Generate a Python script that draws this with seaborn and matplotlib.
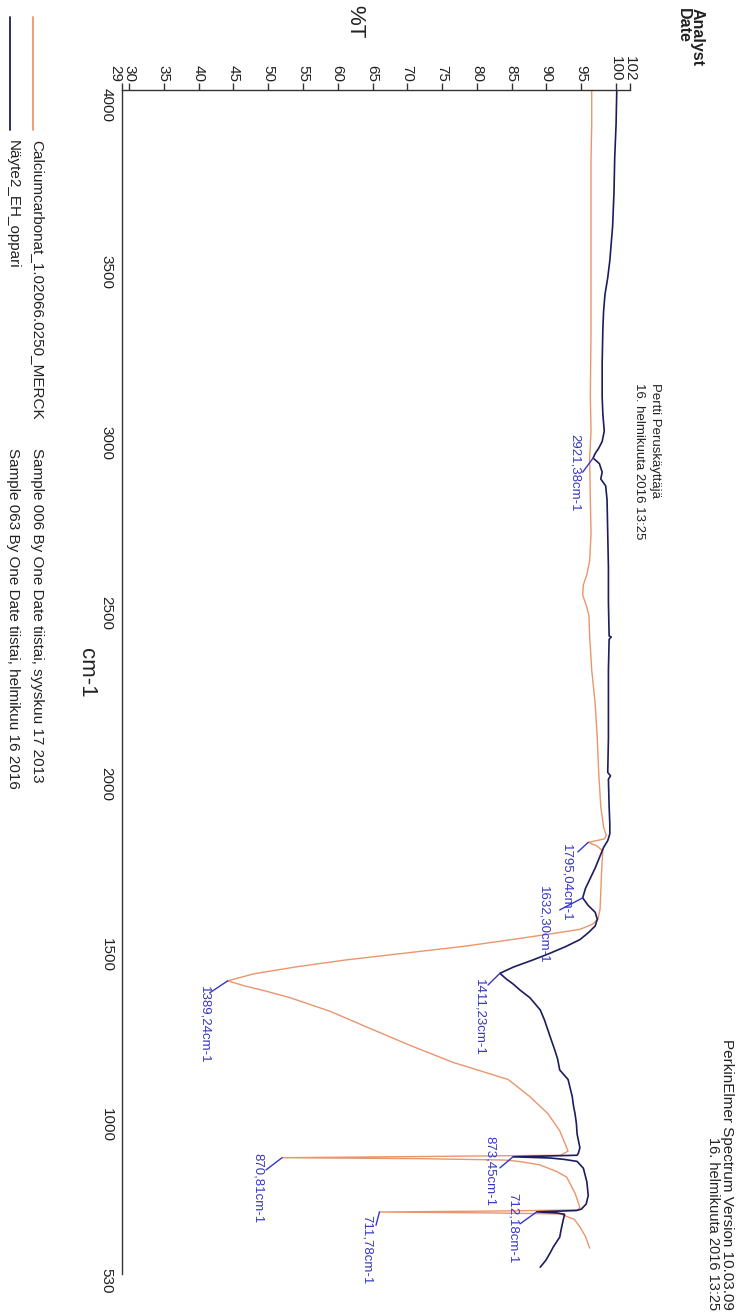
import numpy as np
import pandas as pd
import matplotlib
matplotlib.use('Agg')
import matplotlib.pyplot as plt
import matplotlib.transforms as mtransforms
import seaborn as sns
from matplotlib.lines import Line2D

# Calciumcarbonat reference spectrum (cm-1 / %T)
calc_wn = [4000, 3900, 3800, 3600, 3500, 3300, 3100, 3000, 2921, 2800, 2700, 2620, 2580, 2550,
           2520, 2490, 2460, 2400, 2300, 2200, 2100, 2000, 1900, 1840, 1815, 1805, 1795, 1785,
           1770, 1740, 1700, 1650, 1600, 1570, 1555, 1540, 1525, 1510, 1490, 1470, 1450, 1430,
           1410, 1389.24, 1375, 1360, 1340, 1320, 1300, 1250, 1200, 1150, 1100, 1050, 1000, 950,
           910, 890, 878, 874, 870.81, 868, 864, 860, 850, 830, 814, 767, 725, 718, 715, 711.78,
           709, 706, 690, 668, 640, 606]
calc_t = [96.5, 96.5, 96.4, 96.4, 96.4, 96.4, 96.3, 96.4, 96.2, 96.3, 96.4, 96.2, 95.8, 95.3,
          95.2, 95.7, 96.1, 96.2, 96.5, 97.0, 97.3, 97.5, 97.8, 98.2, 98.6, 98.3, 96.0, 97.2,
          98.1, 98.0, 97.9, 97.8, 97.7, 97.4, 96.6, 94.8, 90.0, 85.0, 78.0, 69.5, 61.0, 54.0,
          48.0, 44.2, 46.5, 49.5, 53.1, 56.0, 58.9, 64.6, 70.4, 76.6, 84.5, 87.6, 90.2, 91.9,
          92.7, 93.1, 92.0, 70.0, 52.0, 72.0, 84.0, 86.0, 89.0, 91.5, 92.9, 94.1, 94.8, 94.5,
          85.0, 66.0, 82.0, 92.0, 94.0, 94.8, 95.6, 96.2]

# Näyte2_EH_oppari sample spectrum
samp_wn = [4000, 3900, 3800, 3700, 3600, 3550, 3500, 3450, 3400, 3350, 3300, 3200, 3100, 3050,
           3000, 2970, 2950, 2935, 2921.38, 2905, 2880, 2860, 2840, 2800, 2700, 2600, 2500, 2400,
           2397, 2390, 2300, 2200, 2100, 2000, 1990, 1980, 1900, 1850, 1820, 1800, 1780, 1750,
           1720, 1690, 1660, 1632.30, 1610, 1590, 1570, 1550, 1530, 1510, 1490, 1470, 1450, 1430,
           1411.23, 1395, 1380, 1362, 1340, 1304, 1275, 1245, 1215, 1186, 1160, 1128, 1100, 1075,
           1050, 1020, 1000, 970, 940, 900, 885, 878, 873.45, 870, 866, 860, 840, 800, 760, 735,
           720, 716, 712.18, 709, 705, 688, 660, 638, 610, 591, 570, 550]
samp_t = [100.1, 100.0, 99.8, 99.7, 99.5, 99.3, 99.1, 98.8, 98.4, 98.2, 98.1, 98.0, 98.0, 98.1,
          98.3, 98.0, 97.5, 97.0, 96.7, 97.6, 98.0, 97.8, 98.5, 98.7, 98.8, 98.9, 98.9, 99.0,
          99.3, 99.0, 98.9, 98.9, 98.9, 98.8, 99.2, 98.9, 99.0, 99.1, 99.1, 98.8, 98.2, 97.6,
          97.0, 96.3, 95.6, 95.2, 96.0, 97.0, 97.3, 97.0, 96.0, 94.8, 92.8, 90.5, 88.0, 85.3,
          83.3, 84.2, 85.2, 86.2, 87.6, 89.1, 89.7, 90.2, 90.7, 91.2, 91.6, 91.9, 93.1, 93.4,
          93.7, 93.9, 94.1, 94.3, 94.4, 94.8, 94.6, 94.4, 85.2, 90.5, 92.5, 94.4, 95.3, 95.8,
          96.0, 95.7, 95.0, 94.3, 88.6, 91.5, 92.6, 92.4, 92.1, 91.9, 91.0, 90.5, 89.9, 89.1]

# peak picks
peak_labels = ['2921,38cm-1', '1795,04cm-1', '1632,30cm-1', '1411,23cm-1', '1389,24cm-1',
               '873,45cm-1', '870,81cm-1', '712,18cm-1', '711,78cm-1']
peak_wn = [2921.38, 1795.04, 1632.30, 1411.23, 1389.24, 873.45, 870.81, 712.18, 711.78]
peak_t = [96.7, 96.0, 95.2, 83.3, 44.2, 85.2, 52.0, 88.6, 66.0]

t_ticks = [29, 30, 35, 40, 45, 50, 55, 60, 65, 70, 75, 80, 85, 90, 95, 100, 102]
wn_ticks = [4000, 3500, 3000, 2500, 2000, 1500, 1000, 530]

legend_names = ['Calciumcarbonat_1.02066.0250_MERCK', 'Näyte2_EH_oppari']
legend_info = ['Sample 006 By One Date tiistai, syyskuu 17 2013',
               'Sample 063 By One Date tiistai, helmikuu 16 2016']

ORANGE = '#EA956C'
NAVY = '#1C1C5E'
PEAK_BLUE = '#3636C8'
AXIS = '#333333'

sns.set_style('white')
plt.rcParams['font.family'] = ['Liberation Sans', 'DejaVu Sans']

W, H = 742, 1313
fig = plt.figure(figsize=(W / 100, H / 100), dpi=100)


def fx(px):
    return px / W


def fy(py):
    return 1 - py / H


# axes box: %T runs left->right, wavenumber runs top->bottom (spectrum turned on its side)
x0, x1, y0, y1 = 122, 630, 90, 1274
ax = fig.add_axes([fx(x0), fy(y1), (x1 - x0) / W, (y1 - y0) / H])

sns.lineplot(x=calc_t, y=calc_wn, sort=False, estimator=None, color=ORANGE, lw=1.0, ax=ax)
sns.lineplot(x=samp_t, y=samp_wn, sort=False, estimator=None, color=NAVY, lw=1.2, ax=ax)

ax.set_xlim(29, 102)
ax.set_ylim(530, 4000)
for s in ['right', 'bottom']:
    ax.spines[s].set_visible(False)
for s in ['top', 'left']:
    ax.spines[s].set_color(AXIS)
    ax.spines[s].set_linewidth(1.0)

ax.xaxis.tick_top()
ax.set_xticks(t_ticks)
ax.set_xticklabels([str(t) for t in t_ticks], rotation=270)
ax.set_yticks(wn_ticks)
ax.set_yticklabels([str(w) for w in wn_ticks], rotation=270)
ax.tick_params(axis='x', direction='out', length=5, width=1, pad=1, labelsize=11,
               color=AXIS, labelcolor='#222222')
ax.tick_params(axis='y', direction='out', length=4, width=1, pad=2, labelsize=11,
               color=AXIS, labelcolor='#222222')

# "29" sits right at the corner, nudge it left so it clears "30"
lab29 = ax.get_xticklabels()[0]
lab29.set_transform(lab29.get_transform() +
                    mtransforms.ScaledTranslation(-7 / 100, 0, fig.dpi_scale_trans))
lab4000 = ax.get_yticklabels()[0]
lab4000.set_transform(lab4000.get_transform() +
                      mtransforms.ScaledTranslation(0, -4 / 100, fig.dpi_scale_trans))

ax.set_xlabel('')
ax.set_ylabel('')
ax.text((355 - x0) / (x1 - x0), (y1 - 22) / (y1 - y0), '%T', transform=ax.transAxes,
        rotation=270, ha='center', va='center', fontsize=16, color='#222222')
ax.text((86 - x0) / (x1 - x0), (y1 - 673) / (y1 - y0), 'cm-1', transform=ax.transAxes,
        rotation=270, ha='center', va='center', fontsize=16, color='#222222')

# peak label layout: end of the pointer line and centre of the label (data coords)
line_end = [(95.2, 2880), (94.5, 1767), (91.9, 1597), (81.6, 1377), (41.6, 1354),
            (83.3, 841), (49.7, 835), (86.2, 677), (65.5, 673)]
text_pos = [(94.1, 2877), (92.8, 1676), (89.5, 1553), (80.4, 1283), (40.9, 1260),
            (81.9, 832), (48.5, 782), (85.2, 665), (64.2, 600)]
for lab, pw, pt, (ex, ey), (tx, ty) in zip(peak_labels, peak_wn, peak_t, line_end, text_pos):
    ax.plot([pt, ex], [pw, ey], color=PEAK_BLUE, lw=1.0)
    ax.text(tx, ty, lab, rotation=270, ha='center', va='center', fontsize=9.5, color=PEAK_BLUE)

# header block
fig.text(fx(697), fy(8), 'Analyst', rotation=270, ha='center', va='top', fontsize=11.5,
         fontweight='bold', color='#222222')
fig.text(fx(683), fy(8), 'Date', rotation=270, ha='center', va='top', fontsize=11.5,
         fontweight='bold', color='#222222')
fig.text(fx(655), fy(383), 'Pertti Peruskäyttäjä', rotation=270, ha='center', va='top',
         fontsize=9.5, color='#222222')
fig.text(fx(639), fy(383), '16. helmikuuta 2016 13:25', rotation=270, ha='center', va='top',
         fontsize=9.5, color='#222222')
fig.text(fx(727), fy(1310), 'PerkinElmer Spectrum Version 10.03.09', rotation=270, ha='center',
         va='bottom', fontsize=11, color='#222222')
fig.text(fx(713), fy(1310), '16. helmikuuta 2016 13:25', rotation=270, ha='center',
         va='bottom', fontsize=10.5, color='#222222')

# legend block
for xl, xt, col, name, info in zip([33, 10], [37, 13], [ORANGE, NAVY], legend_names, legend_info):
    fig.add_artist(Line2D([fx(xl), fx(xl)], [fy(17), fy(130)], color=col, lw=1.3))
    fig.text(fx(xt), fy(140), name, rotation=270, ha='center', va='top', fontsize=11,
             color='#222222')
    fig.text(fx(xt), fy(448), info, rotation=270, ha='center', va='top', fontsize=11,
             color='#222222')

fig.savefig('out.png', dpi=100, facecolor='white')
